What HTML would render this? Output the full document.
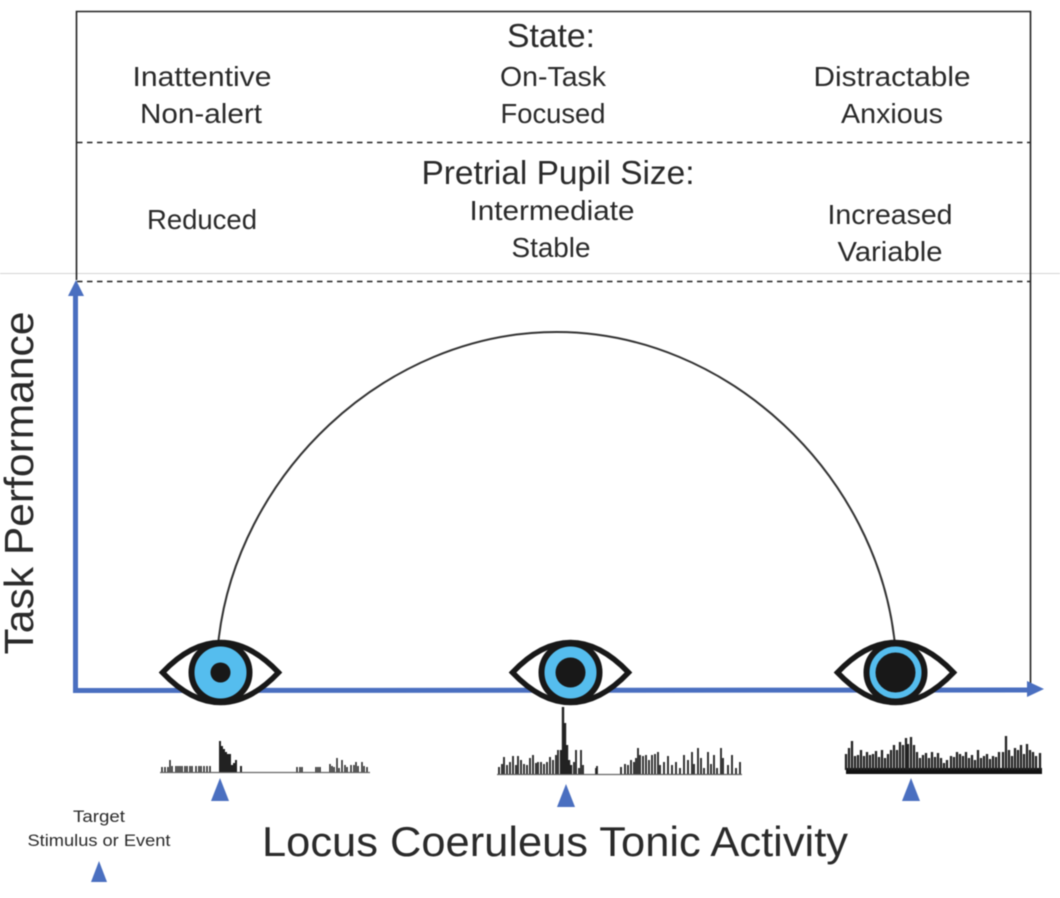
<!DOCTYPE html>
<html>
<head>
<meta charset="utf-8">
<style>
html,body{margin:0;padding:0;background:#fff;}
svg{display:block;filter:blur(0.4px);}
text{font-family:"Liberation Sans",sans-serif;fill:#2a2a2a;text-anchor:middle;}
</style>
</head>
<body>
<svg width="1060" height="898" viewBox="0 0 1060 898" xmlns="http://www.w3.org/2000/svg">
<rect width="1060" height="898" fill="#fff"/>
<line x1="0" y1="273.5" x2="1060" y2="273.5" stroke="#d4d4d4" stroke-width="1"/>
<path d="M76.5 280V11.5H1030.5V684" fill="none" stroke="#222" stroke-width="1.6"/>
<line x1="77" y1="142.5" x2="1030" y2="142.5" stroke="#222" stroke-width="1.6" stroke-dasharray="5.5 4.5"/>
<line x1="77" y1="281.5" x2="1030" y2="281.5" stroke="#222" stroke-width="1.6" stroke-dasharray="5.5 4.5"/>

<text x="551" y="47" font-size="33" textLength="88" lengthAdjust="spacingAndGlyphs">State:</text>
<text x="202" y="86" font-size="28" textLength="139" lengthAdjust="spacingAndGlyphs">Inattentive</text>
<text x="201" y="123" font-size="28" textLength="122" lengthAdjust="spacingAndGlyphs">Non-alert</text>
<text x="553" y="86" font-size="28" textLength="106" lengthAdjust="spacingAndGlyphs">On-Task</text>
<text x="553" y="123" font-size="28" textLength="105" lengthAdjust="spacingAndGlyphs">Focused</text>
<text x="892" y="86" font-size="28" textLength="157" lengthAdjust="spacingAndGlyphs">Distractable</text>
<text x="892" y="123" font-size="28" textLength="102" lengthAdjust="spacingAndGlyphs">Anxious</text>

<text x="558" y="184" font-size="33" textLength="273" lengthAdjust="spacingAndGlyphs">Pretrial Pupil Size:</text>
<text x="202" y="229" font-size="28" textLength="110" lengthAdjust="spacingAndGlyphs">Reduced</text>
<text x="552" y="220" font-size="28" textLength="165" lengthAdjust="spacingAndGlyphs">Intermediate</text>
<text x="551" y="257" font-size="28" textLength="79" lengthAdjust="spacingAndGlyphs">Stable</text>
<text x="890" y="224" font-size="28" textLength="125" lengthAdjust="spacingAndGlyphs">Increased</text>
<text x="890" y="261" font-size="28" textLength="105" lengthAdjust="spacingAndGlyphs">Variable</text>

<text transform="translate(33,483) rotate(-90)" font-size="41" textLength="343" lengthAdjust="spacingAndGlyphs">Task Performance</text>

<path d="M218 645C235 475 385 332 556.5 332C728 332 878 475 895 645" fill="none" stroke="#333" stroke-width="2"/>

<line x1="75.5" y1="294" x2="75.5" y2="691" stroke="#4a6fc0" stroke-width="5"/>
<path d="M76 280L84 296H68Z" fill="#4a6fc0"/>
<line x1="73" y1="690.5" x2="1030" y2="690" stroke="#4a6fc0" stroke-width="5"/>
<path d="M1044 689L1027 681V697Z" fill="#4a6fc0"/>

<!-- eyes -->
<g transform="translate(220.5,672.5)">
<path d="M-58 0C-20 -40 20 -40 58 0C20 40 -20 40 -58 0Z" fill="#fff" stroke="#181818" stroke-width="5.5"/>
<circle r="29" fill="#55bdee" stroke="#181818" stroke-width="6"/>
<circle r="10" fill="#181818"/>
</g>
<g transform="translate(570.5,672.5)">
<path d="M-58 0C-20 -40 20 -40 58 0C20 40 -20 40 -58 0Z" fill="#fff" stroke="#181818" stroke-width="5.5"/>
<circle r="29" fill="#55bdee" stroke="#181818" stroke-width="6"/>
<circle r="15" fill="#181818"/>
</g>
<g transform="translate(895.5,672.5)">
<path d="M-58 0C-20 -40 20 -40 58 0C20 40 -20 40 -58 0Z" fill="#fff" stroke="#181818" stroke-width="5.5"/>
<circle r="29" fill="#55bdee" stroke="#181818" stroke-width="6"/>
<circle r="20" fill="#181818"/>
</g>

<!-- activity traces -->
<g fill="none" stroke="#222" stroke-width="1.2">
<path d="M160 772.5H370" stroke="#666"/>
<path stroke-width="1.5" d="M162 772V767M165 772V767M168 772V767M170 772V760M172 772V766M176 772V766M178 772V766M180 772V766M182 772V766M185 772V766M187 772V766M190 772V766M192 772V766M196 772V766M199 772V766M201 772V766M204 772V766M207 772V766M210 772V766M297 772V767M300 772V767M302 772V767M316 772V767M318 772V767M320 772V767M330 772V764M332 772V766M334 772V767M337 772V758M339 772V768M342 772V760M345 772V765M347 772V767M351 772V765M354 772V765M356 772V762M358 772V766M362 772V762M364 772V766M367 772V767"/>
<path stroke-width="2" d="M220 772V741M222 772V746M224 772V749M226 772V752M228 772V754M230 772V754M232 772V765M234 772V763M236 772V760M241 772V766"/>

<path d="M497 774.5H742" stroke="#666"/>
<path stroke-width="1.8" d="M499 774V767M502 774V764M504 774V757M507 774V765M510 774V762M513 774V756M516 774V765M518 774V756M521 774V760M524 774V764M527 774V765M530 774V758M533 774V755M536 774V763M538 774V762M541 774V762M544 774V764M547 774V762M550 774V757M553 774V760M556 774V755M558 774V750M574 774V762M576 774V750M579 774V768M581 774V750M583 774V765M596 774V768M597 774V766M621 774V767M625 774V764M628 774V765M631 774V760M634 774V762M636 774V758M638 774V748M640 774V755M643 774V756M646 774V755M649 774V760M652 774V755M655 774V754M658 774V752M660 774V765M664 774V762M668 774V756M672 774V765M676 774V762M680 774V768M684 774V755M688 774V760M692 774V752M694 774V764M698 774V748M701 774V758M704 774V768M708 774V752M711 774V764M714 774V755M717 774V768M721 774V748M723 774V758M728 774V765M732 774V755M736 774V768M740 774V762"/>
<path stroke-width="2.4" d="M561 774V750M563 774V707M565 774V723M567 774V745M569 774V760M571 774V765"/>

<path d="M846 771H1042" stroke="#111" stroke-width="6"/>
<path stroke-width="2.3" d="M846 770V754M849 770V748M852 770V741M855 770V756M858 770V755M861 770V750M864 770V756M867 770V752M870 770V755M873 770V754M876 770V751M879 770V757M882 770V750M885 770V758M888 770V754M891 770V750M894 770V745M897 770V750M900 770V742M903 770V745M906 770V738M908 770V744M911 770V737M914 770V745M917 770V752M920 770V758M923 770V755M926 770V753M929 770V758M932 770V752M935 770V757M938 770V753M941 770V758M944 770V763M947 770V760M951 770V756M954 770V757M957 770V752M960 770V754M963 770V756M966 770V752M969 770V758M972 770V755M975 770V760M978 770V750M981 770V758M984 770V756M987 770V754M990 770V759M993 770V756M996 770V757M999 770V752M1003 770V752M1006 770V736M1009 770V750M1012 770V756M1015 770V748M1018 770V750M1021 770V745M1024 770V754M1027 770V744M1030 770V750M1033 770V752M1036 770V756M1040 770V753"/>
</g>

<!-- target triangles -->
<g fill="#4a6fc0">
<path d="M220 778L229 801H211Z"/>
<path d="M566 784L575 807H557Z"/>
<path d="M911 778L920 801H902Z"/>
<path d="M99 861L107 882H91Z"/>
</g>

<text x="99" y="822" font-size="17" textLength="52" lengthAdjust="spacingAndGlyphs">Target</text>
<text x="99" y="846" font-size="17" textLength="143" lengthAdjust="spacingAndGlyphs">Stimulus or Event</text>
<text x="555" y="856" font-size="42" textLength="586" lengthAdjust="spacingAndGlyphs">Locus Coeruleus Tonic Activity</text>
</svg>
</body>
</html>
